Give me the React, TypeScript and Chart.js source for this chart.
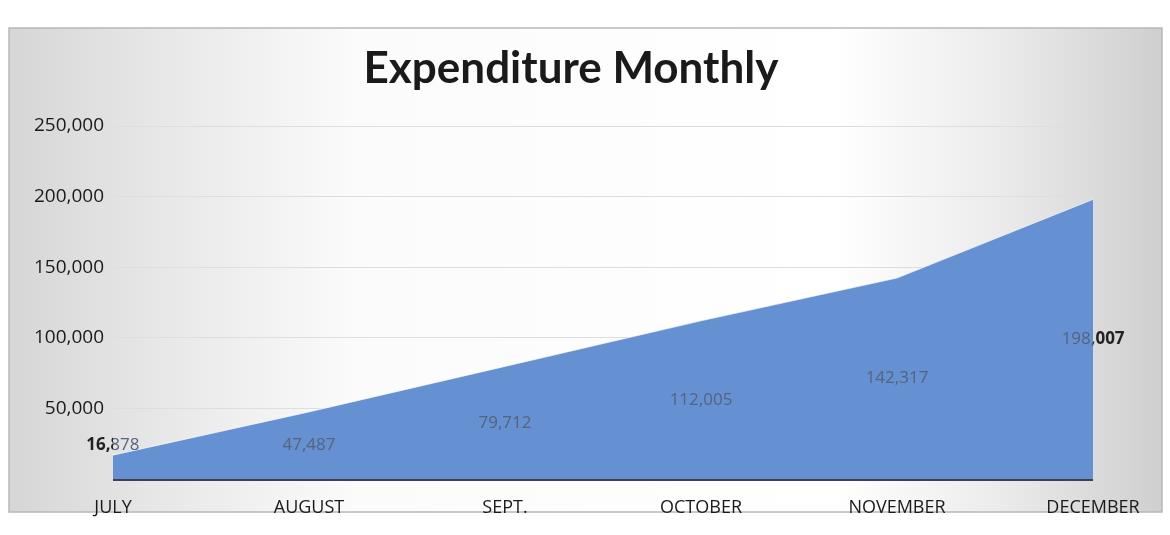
import React, { useEffect, useRef } from "react";
import { Chart, registerables } from "chart.js";

Chart.register(...registerables);

const TITLE = "Expenditure Monthly";
const months = ["JULY", "AUGUST", "SEPT.", "OCTOBER", "NOVEMBER", "DECEMBER"];
const expenditure = [16878, 47487, 79712, 112005, 142317, 198007];
const yTicks = [0, 50000, 100000, 150000, 200000, 250000];

const fmt = (v: number) => v.toLocaleString("en-US");

const framePlugin = {
  id: "frame",
  beforeDraw(chart: any) {
    const ctx = chart.ctx;
    const W = chart.width;
    ctx.save();
    ctx.fillStyle = "#ffffff";
    ctx.fillRect(0, 0, W, chart.height);
    const x0 = 9, y0 = 28, x1 = 1162, y1 = 512;
    const g = ctx.createLinearGradient(x0, 0, x1, 0);
    g.addColorStop(0, "#d6d6d6");
    g.addColorStop(0.12, "#e6e6e6");
    g.addColorStop(0.3, "#fbfbfb");
    g.addColorStop(0.72, "#ffffff");
    g.addColorStop(0.86, "#ebebeb");
    g.addColorStop(1, "#cfcfcf");
    ctx.fillStyle = g;
    ctx.fillRect(x0, y0, x1 - x0, y1 - y0);
    ctx.strokeStyle = "#b8b8b8";
    ctx.lineWidth = 1.5;
    ctx.strokeRect(x0, y0, x1 - x0, y1 - y0);
    ctx.fillStyle = "#1a1a1a";
    ctx.font = "bold 44px Lato";
    ctx.textAlign = "center";
    ctx.textBaseline = "alphabetic";
    ctx.fillText(TITLE, 571, 83);
    ctx.restore();
  },
};

const labelPlugin = {
  id: "midLabels",
  afterDatasetsDraw(chart: any) {
    const ctx = chart.ctx;
    const ca = chart.chartArea;
    const ys = chart.scales.y;
    const meta = chart.getDatasetMeta(0);
    const data = chart.data.datasets[0].data as number[];
    ctx.save();
    ctx.font = "17px 'Open Sans'";
    ctx.textAlign = "center";
    ctx.textBaseline = "middle";
    const zero = ys.getPixelForValue(0);
    data.forEach((v, i) => {
      const x = meta.data[i].x;
      const y = Math.min(ys.getPixelForValue(v / 2), zero - 34);
      const txt = fmt(v);
      ctx.save();
      ctx.beginPath();
      ctx.rect(ca.left, ca.top, ca.right - ca.left, ca.bottom - ca.top);
      ctx.clip();
      ctx.fillStyle = "#56637d";
      ctx.fillText(txt, x, y);
      ctx.restore();
      ctx.save();
      ctx.beginPath();
      ctx.rect(0, 0, ca.left, chart.height);
      ctx.rect(ca.right, 0, chart.width - ca.right, chart.height);
      ctx.clip();
      ctx.font = "bold 17px 'Open Sans'";
      ctx.fillStyle = "#222222";
      ctx.fillText(txt, x, y);
      ctx.restore();
    });
    ctx.restore();
  },
};

export default function App() {
  const ref = useRef<HTMLCanvasElement | null>(null);
  useEffect(() => {
    if (!ref.current) return;
    const chart = new Chart(ref.current, {
      type: "line",
      data: {
        labels: months,
        datasets: [
          {
            label: "Expenditure",
            data: expenditure,
            fill: "origin",
            backgroundColor: "#6591d3",
            borderColor: "rgba(255,255,255,0.6)",
            borderWidth: 1,
            pointRadius: 0,
            tension: 0,
          },
        ],
      },
      options: {
        animation: false,
        responsive: false,
        layout: { padding: { top: 126, right: 77, left: 0, bottom: 0 } },
        plugins: {
          legend: { display: false },
          title: { display: false },
          tooltip: { enabled: false },
        },
        scales: {
          x: {
            offset: false,
            grid: { display: false, drawTicks: false },
            border: { display: false },
            ticks: {
              color: "#1a1a1a",
              font: { family: "'Open Sans'", size: 18 },
              padding: 18,
              maxRotation: 0,
              autoSkip: false,
            },
            afterFit: (s: any) => {
              s.height = 56;
            },
          },
          y: {
            min: 0,
            max: 250000,
            afterBuildTicks: (s: any) => {
              s.ticks = yTicks.map((v) => ({ value: v }));
            },
            grid: {
              drawTicks: false,
              color: (c: any) => (c.tick && c.tick.value === 0 ? "#3d4250" : "#dedede"),
              lineWidth: (c: any) => (c.tick && c.tick.value === 0 ? 3 : 1),
            },
            border: { display: false },
            ticks: {
              color: "#1a1a1a",
              font: { family: "'Open Sans'", size: 19 },
              padding: 9,
              callback: (v: any) => (v === 0 ? "" : fmt(Number(v))),
            },
            afterFit: (s: any) => {
              s.width = 113;
            },
          },
        },
      },
      plugins: [framePlugin, labelPlugin],
    });
    return () => chart.destroy();
  }, []);
  return (
    <div style={{ position: "fixed", left: 0, top: 0, width: 1170, height: 535 }}>
      <canvas ref={ref} width={1170} height={535} style={{ display: "block" }} />
    </div>
  );
}
